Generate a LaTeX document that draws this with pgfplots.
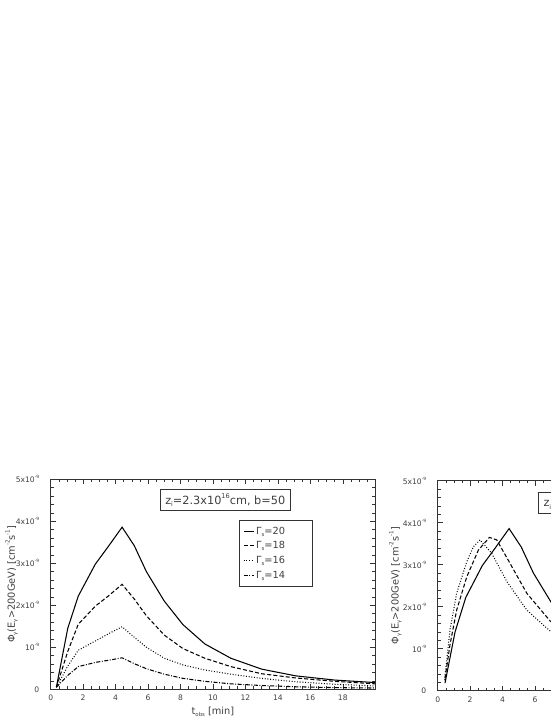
\documentclass[border=0pt]{standalone}
\usepackage{fontspec}
\setmainfont{DejaVu Sans}
\usepackage{graphicx}
\usepackage{pgfplots}
\pgfplotsset{compat=1.18}
\definecolor{axgray}{gray}{0.2}
\definecolor{txtgray}{gray}{0.25}
\newcommand{\Sub}[1]{\raisebox{-0.4ex}{\scalebox{0.55}{#1}}}
\newcommand{\Sup}[1]{\raisebox{0.95ex}{\scalebox{0.58}{#1}}}
\pgfplotsset{
  myax/.style={
    scale only axis, width=324.5pt, height=210pt,
    xmin=0, xmax=20, ymin=0, ymax=5,
    xtick={0,2,...,18},
    minor xtick={0,0.5,...,20},
    ytick={0,1,2,3,4,5},
    yticklabels={0,10\Sup{-9},2x10\Sup{-9},3x10\Sup{-9},4x10\Sup{-9},5x10\Sup{-9}},
    minor ytick={0,0.2,...,5},
    tick align=inside,
    major tick length=5pt, minor tick length=2.8pt,
    every tick/.style={axgray, line width=0.5pt},
    axis line style={axgray, line width=0.6pt},
    /pgf/number format/assume math mode=true,
    ticklabel style={font=\fontsize{7.6}{8}\selectfont, text=txtgray},
    xticklabel style={yshift=-2.5pt},
    yticklabel style={xshift=-8pt},
    label style={font=\fontsize{9.8}{10}\selectfont, text=txtgray},
    xlabel={t\Sub{obs} [min]},
    ylabel={Φ\Sub{γ}(E\Sub{γ}>200GeV) [cm\Sup{-2}s\Sup{-1}]},
    xlabel style={at={(axis description cs:0.5,-0.107)}, anchor=center},
    ylabel style={at={(axis description cs:-0.12,0.5)}, anchor=center},
    every axis plot/.append style={black, line width=1.05pt},
    legend image code/.code={\draw[#1] (0pt,0pt) -- (10pt,0pt);},
  }
}
\begin{document}
\begin{tikzpicture}
\useasboundingbox (0pt,0pt) rectangle (550pt,719pt);
\begin{axis}[myax, at={(50.7pt,29.7pt)}, anchor=south west,
  legend style={at={(rel axis cs:0.58,0.806)}, anchor=north west, draw=axgray,
    font=\fontsize{9.8}{10}\selectfont, text=txtgray, inner xsep=4pt, inner ysep=4.5pt,
    row sep=2pt},
  legend cell align=left]
\addplot[solid] coordinates {(0.35,0.05)(1.05,1.45)(1.7,2.22)(2.75,2.98)(3.55,3.40)(4.4,3.86)(5.15,3.42)(5.9,2.80)(7.0,2.10)(8.15,1.54)(9.5,1.08)(11.1,0.74)(13.0,0.48)(15.1,0.32)(17.5,0.22)(20,0.16)};
\addlegendentry{\makebox[50pt][l]{Γ\Sub{s}=20}}
\addplot[dash pattern=on 4pt off 2.2pt] coordinates {(0.35,0.05)(1.05,0.90)(1.7,1.55)(2.75,1.98)(3.55,2.22)(4.4,2.50)(5.15,2.15)(5.9,1.75)(7.0,1.29)(8.15,0.97)(9.5,0.74)(11.1,0.54)(13.0,0.37)(15.1,0.27)(17.5,0.19)(20,0.13)};
\addlegendentry{\makebox[50pt][l]{Γ\Sub{s}=18}}
\addplot[dash pattern=on 0.9pt off 1.8pt] coordinates {(0.35,0.05)(1.05,0.55)(1.7,0.93)(2.75,1.15)(3.55,1.32)(4.4,1.49)(5.15,1.24)(5.9,1.00)(7.0,0.74)(8.15,0.58)(9.5,0.46)(11.1,0.36)(13.0,0.26)(15.1,0.18)(17.5,0.12)(20,0.08)};
\addlegendentry{\makebox[50pt][l]{Γ\Sub{s}=16}}
\addplot[dash pattern=on 4pt off 1.6pt on 0.9pt off 1.6pt] coordinates {(0.35,0.05)(1.05,0.33)(1.7,0.54)(2.75,0.64)(3.55,0.69)(4.4,0.75)(5.15,0.61)(5.9,0.49)(7.0,0.36)(8.15,0.26)(9.5,0.19)(11.1,0.13)(13.0,0.09)(15.1,0.06)(17.5,0.04)(20,0.03)};
\addlegendentry{\makebox[50pt][l]{Γ\Sub{s}=14}}
\node[draw=axgray, fill=white, text=txtgray, font=\fontsize{11.3}{12}\selectfont, inner xsep=5pt, inner ysep=4pt, anchor=center] at (rel axis cs:0.538,0.901) {z\Sub{i}=2.3x10\Sup{16}cm, b=50};
\end{axis}
\begin{axis}[myax, at={(437.7pt,28.3pt)}, anchor=south west,
  ylabel style={at={(axis description cs:-0.13,0.5)}, anchor=center}]
\addplot[solid] coordinates {(0.45,0.18)(1.07,1.40)(1.73,2.22)(2.75,2.98)(3.55,3.40)(4.4,3.86)(5.15,3.42)(5.9,2.80)(7.0,2.10)(8.15,1.54)(9.5,1.08)};
\addplot[dash pattern=on 4pt off 2.2pt] coordinates {(0.45,0.29)(0.76,1.10)(1.17,1.92)(1.79,2.71)(2.51,3.35)(3.19,3.65)(3.64,3.59)(4.46,3.03)(5.49,2.32)(6.93,1.66)(8.2,1.25)};
\addplot[dash pattern=on 0.9pt off 1.8pt] coordinates {(0.42,0.25)(0.76,1.45)(1.17,2.32)(1.79,3.07)(2.2,3.43)(2.61,3.59)(3.33,3.27)(4.26,2.60)(5.49,1.92)(6.93,1.42)(8.2,1.10)};
\node[draw=axgray, fill=white, text=txtgray, font=\fontsize{11.3}{12}\selectfont, inner xsep=5pt, inner ysep=4pt, anchor=west] at (rel axis cs:0.31,0.895) {z\Sub{i}=2.3x10\Sup{16}cm, Γ\Sub{s}=20};
\end{axis}
\end{tikzpicture}
\end{document}
